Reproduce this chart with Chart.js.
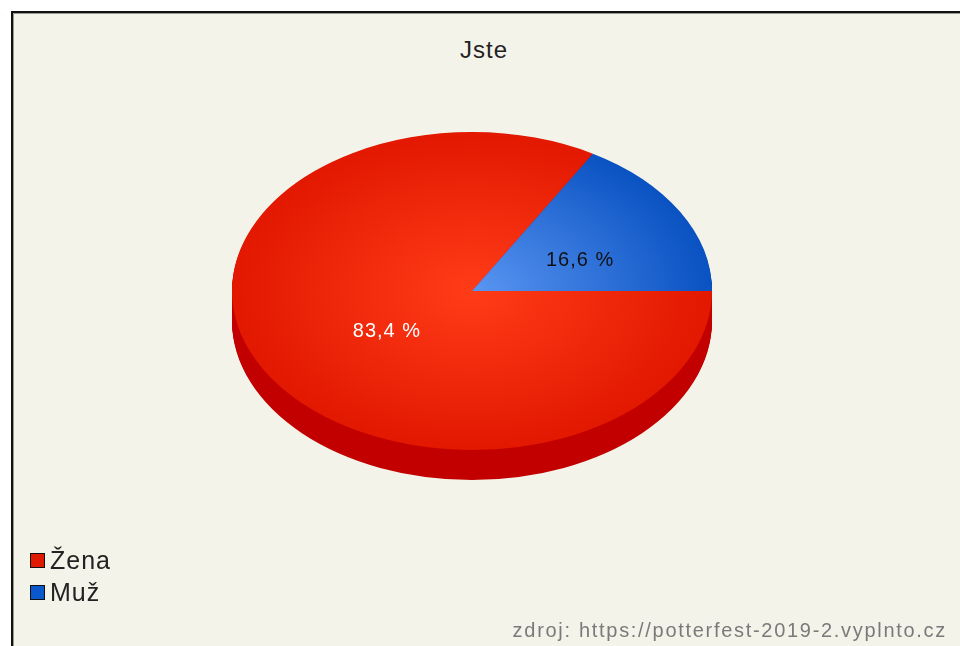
<!DOCTYPE html>
<html>
<head>
<meta charset="utf-8">
<title>Jste</title>
<script src="https://cdn.jsdelivr.net/npm/chart.js@4"></script>
<style>
  body { margin: 0; background: #fff; font-family: "Liberation Sans", Arial, sans-serif; }
  #wrap { position: relative; width: 960px; height: 646px; overflow: hidden; }
  #frame {
    position: absolute; left: 11px; top: 11px; right: -10px; bottom: -10px;
    background: #f3f3ea;
    border-left: 2px solid #111; border-top: 2px solid #111;
    box-shadow: inset 1px 1px 0 #9a9a90;
  }
  #chart { position: absolute; left: 0; top: 0; }
  #title { position: absolute; left: 0; width: 968px; top: 36px; text-align: center; font-size: 24px; letter-spacing: 1px; color: #222; }
  #legend { position: absolute; left: 30px; top: 545px; font-size: 25px; letter-spacing: 1px; color: #222; }
  #legend div { height: 32px; line-height: 30px; white-space: nowrap; }
  #legend span.box { display: inline-block; width: 13px; height: 13px; border: 1px solid #111; margin-right: 5px; vertical-align: 1px; }
  #source { position: absolute; right: 13px; top: 619px; font-size: 20px; color: #7a7a7a; letter-spacing: 1.7px; }
</style>
</head>
<body>
<div id="wrap">
  <div id="frame"></div>
  <div id="title">Jste</div>
  <canvas id="chart" width="960" height="646"></canvas>
  <div id="legend"></div>
  <div id="source">zdroj: https://potterfest-2019-2.vyplnto.cz</div>
</div>
<script>
const categories = ['Žena', 'Muž'];
const values = [83.4, 16.6];
const legendColors = ['#e01a00', '#0a58cc'];
const innerColors = ['#ff3c18', '#5a96f2'];
const outerColors = ['#e21800', '#0a52c2'];
const sideColors = ['#c30000', '#0840a0'];
const labelColors = ['#ffffff', '#111111'];

const SQUASH = 0.6625;  // vertical squeeze of the pie top
const DEPTH = 30;       // thickness of the pie in px

// legend
const legend = document.getElementById('legend');
categories.forEach((c, i) => {
    const row = document.createElement('div');
    row.innerHTML = '<span class="box" style="background:' + legendColors[i] + '"></span>' + c;
    legend.appendChild(row);
});

function fmt(v) {
    return v.toFixed(1).replace('.', ',') + ' %';
}

// draws the pie as a flattened disc with a side wall
const pie3d = {
    id: 'pie3d',
    beforeDatasetsDraw(chart) {
        const ctx = chart.ctx;
        const meta = chart.getDatasetMeta(0);
        const cy = meta.data[0].y;
        for (let d = DEPTH; d >= 1; d--) {
            meta.data.forEach((arc, i) => {
                ctx.save();
                ctx.translate(0, cy * (1 - SQUASH) + d);
                ctx.scale(1, SQUASH);
                ctx.beginPath();
                ctx.moveTo(arc.x, arc.y);
                ctx.arc(arc.x, arc.y, arc.outerRadius, arc.startAngle, arc.endAngle);
                ctx.closePath();
                ctx.fillStyle = sideColors[i];
                ctx.fill();
                ctx.restore();
            });
        }
        ctx.save();
        ctx.translate(0, cy * (1 - SQUASH));
        ctx.scale(1, SQUASH);
    },
    afterDatasetsDraw(chart) {
        const ctx = chart.ctx;
        ctx.restore();
        const meta = chart.getDatasetMeta(0);
        ctx.save();
        ctx.font = '20px "Liberation Sans", Arial, sans-serif';
        ctx.letterSpacing = '1px';
        ctx.textAlign = 'center';
        ctx.textBaseline = 'middle';
        meta.data.forEach((arc, i) => {
            const p = arc.tooltipPosition();
            const y = arc.y + (p.y - arc.y) * SQUASH;
            ctx.fillStyle = labelColors[i];
            ctx.fillText(fmt(values[i]), p.x + (i === 0 ? 19 : 4), y + (i === 0 ? 1 : 9));
        });
        ctx.restore();
    }
};

function sliceGradient(context) {
    const chart = context.chart;
    const area = chart.chartArea;
    if (!area) return innerColors[context.dataIndex];
    const cx = (area.left + area.right) / 2;
    const cy = (area.top + area.bottom) / 2;
    const r = Math.min(area.right - area.left, area.bottom - area.top) / 2;
    const g = chart.ctx.createRadialGradient(cx, cy, 0, cx, cy, r);
    g.addColorStop(0, innerColors[context.dataIndex]);
    g.addColorStop(1, outerColors[context.dataIndex]);
    return g;
}

new Chart(document.getElementById('chart'), {
    type: 'pie',
    data: {
        labels: categories,
        datasets: [{
            data: values,
            backgroundColor: sliceGradient,
            borderWidth: 0
        }]
    },
    options: {
        responsive: false,
        animation: false,
        events: [],
        rotation: 90,
        layout: {
            padding: { left: 232, right: 248, top: 51, bottom: 115 }
        },
        plugins: {
            legend: { display: false },
            tooltip: { enabled: false },
            title: { display: false }
        }
    },
    plugins: [pie3d]
});
</script>
</body>
</html>
